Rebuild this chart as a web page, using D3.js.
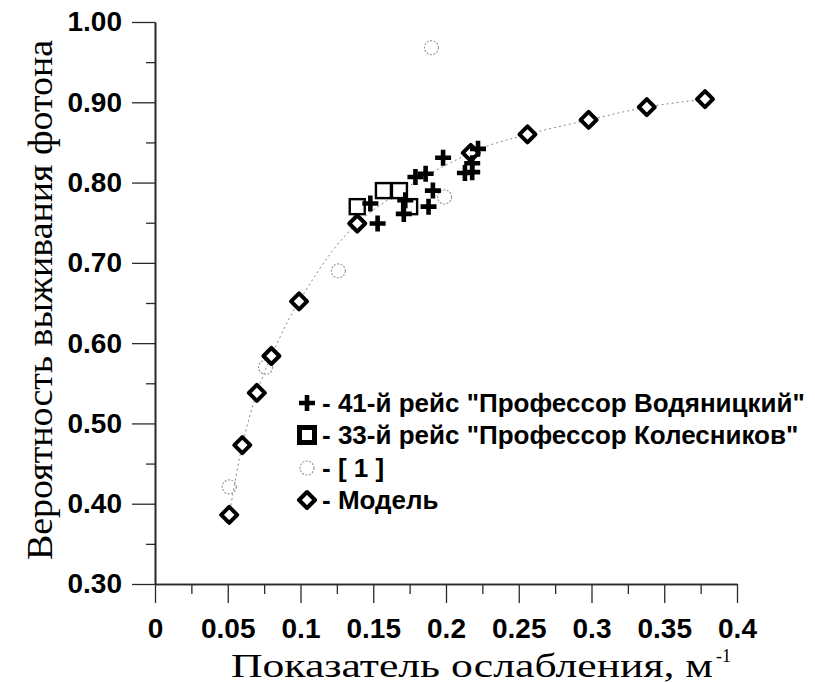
<!DOCTYPE html>
<html>
<head>
<meta charset="utf-8">
<script src="https://cdn.jsdelivr.net/npm/d3@7/dist/d3.min.js"></script>
<style>
  html, body { margin: 0; padding: 0; background: #fff; }
  svg { display: block; }
</style>
</head>
<body>
<script>
// ---- data ----
const xTickValues = [0, 0.05, 0.1, 0.15, 0.2, 0.25, 0.3, 0.35, 0.4];
const xTickLabels = ["0", "0.05", "0.1", "0.15", "0.2", "0.25", "0.3", "0.35", "0.4"];
const yTickValues = [0.3, 0.4, 0.5, 0.6, 0.7, 0.8, 0.9, 1.0];
const yTickLabels = ["0.30", "0.40", "0.50", "0.60", "0.70", "0.80", "0.90", "1.00"];

// 41-й рейс "Профессор Водяницкий" (crosses)
const cruise41X = [0.148, 0.153, 0.171, 0.172, 0.179, 0.186, 0.191, 0.188, 0.198, 0.213, 0.218, 0.218, 0.222];
const cruise41Y = [0.774, 0.749, 0.761, 0.778, 0.807, 0.811, 0.790, 0.770, 0.831, 0.812, 0.813, 0.824, 0.842];

// 33-й рейс "Профессор Колесников" (squares)
const cruise33X = [0.139, 0.157, 0.168, 0.175];
const cruise33Y = [0.770, 0.790, 0.790, 0.770];

// [1] (light rings)
const ref1X = [0.051, 0.076, 0.126, 0.199, 0.190];
const ref1Y = [0.421, 0.570, 0.690, 0.782, 0.968];

// Модель (diamonds + dotted curve)
const modelX = [0.051, 0.060, 0.070, 0.080, 0.099, 0.139, 0.217, 0.256, 0.298, 0.338, 0.378];
const modelY = [0.386, 0.473, 0.538, 0.584, 0.652, 0.749, 0.837, 0.860, 0.878, 0.894, 0.904];

const legendLabels = [
  '- 41-й рейс "Профессор Водяницкий"',
  '- 33-й рейс "Профессор Колесников"',
  '- [ 1 ]',
  '- Модель'
];
const xTitle = "Показатель ослабления,  м";
const xTitleSup = "-1";
const yTitle = "Вероятность выживания фотона";

// ---- drawing ----
const W = 815, H = 683;
const svg = d3.select("body").append("svg").attr("width", W).attr("height", H);

const x = d3.scaleLinear().domain([0, 0.4]).range([155, 737]);
const y = d3.scaleLinear().domain([0.3, 1.0]).range([584, 22]);

const axisColor = "#2a2a2a";
const sans = "'Liberation Sans', Arial, sans-serif";
const serif = "'Liberation Serif', 'Times New Roman', serif";

// minor ticks
const xMinor = d3.range(0.025, 0.4, 0.05);
const yMinor = d3.range(0.35, 1.0, 0.1);

const gxMinor = svg.append("g").attr("transform", `translate(0,${y(0.3)})`)
  .call(d3.axisBottom(x).tickValues(xMinor).tickSize(10).tickFormat("").tickSizeOuter(0));
const gyMinor = svg.append("g").attr("transform", `translate(${x(0)},0)`)
  .call(d3.axisLeft(y).tickValues(yMinor).tickSize(9).tickFormat("").tickSizeOuter(0));

const gx = svg.append("g").attr("transform", `translate(0,${y(0.3)})`)
  .call(d3.axisBottom(x).tickValues(xTickValues).tickSize(19).tickPadding(15).tickSizeOuter(0)
    .tickFormat((d, i) => xTickLabels[i]));
const gy = svg.append("g").attr("transform", `translate(${x(0)},0)`)
  .call(d3.axisLeft(y).tickValues(yTickValues).tickSize(23).tickPadding(10).tickSizeOuter(0)
    .tickFormat((d, i) => yTickLabels[i]));

[gx, gy, gxMinor, gyMinor].forEach(g => {
  g.selectAll("path.domain").attr("stroke", axisColor).attr("stroke-width", 1.6);
  g.selectAll(".tick line").attr("stroke", axisColor).attr("stroke-width", 1.3);
});
gx.selectAll(".tick text").attr("font-family", sans).attr("font-size", 28).attr("font-weight", "bold")
  .attr("fill", "#000").attr("dy", "0.71em");
gy.selectAll(".tick text").attr("font-family", sans).attr("font-size", 28).attr("font-weight", "bold")
  .attr("fill", "#000");

// axis titles
svg.append("text")
  .attr("x", 231).attr("y", 677)
  .attr("font-family", serif).attr("font-size", 34).attr("fill", "#000")
  .attr("textLength", 482).attr("lengthAdjust", "spacingAndGlyphs")
  .text(xTitle);
svg.append("text")
  .attr("x", 716).attr("y", 662)
  .attr("font-family", serif).attr("font-size", 18).attr("fill", "#000")
  .text(xTitleSup);

svg.append("text")
  .attr("transform", `translate(52,300) rotate(-90)`)
  .attr("text-anchor", "middle")
  .attr("font-family", serif).attr("font-size", 35).attr("fill", "#000")
  .attr("textLength", 520).attr("lengthAdjust", "spacingAndGlyphs")
  .text(yTitle);

// model curve
const modelPts = modelX.map((v, i) => [v, modelY[i]]);
svg.append("path")
  .datum(modelPts)
  .attr("fill", "none")
  .attr("stroke", "#888")
  .attr("stroke-width", 1)
  .attr("stroke-dasharray", "2,3")
  .attr("d", d3.line().x(d => x(d[0])).y(d => y(d[1])).curve(d3.curveCatmullRom));

// marker helpers
function ring(g, cx, cy) {
  g.append("circle").attr("cx", cx).attr("cy", cy).attr("r", 7)
    .attr("fill", "none").attr("stroke", "#9a9a9a").attr("stroke-width", 1.2)
    .attr("stroke-dasharray", "2,1.5");
}
function square(g, cx, cy, bold) {
  const s = 15;
  g.append("rect").attr("x", cx - s / 2).attr("y", cy - s / 2).attr("width", s).attr("height", s)
    .attr("fill", "#fff").attr("stroke", "#000").attr("stroke-width", bold ? 5 : 2.4);
}
function cross(g, cx, cy) {
  const a = 8;
  g.append("path").attr("d", `M${cx - a},${cy}H${cx + a}M${cx},${cy - a}V${cy + a}`)
    .attr("stroke", "#000").attr("stroke-width", 4.6).attr("fill", "none");
}
function diamond(g, cx, cy) {
  const a = 8;
  g.append("path").attr("d", `M${cx},${cy - a}L${cx + a},${cy}L${cx},${cy + a}L${cx - a},${cy}Z`)
    .attr("fill", "#fff").attr("stroke", "#000").attr("stroke-width", 4).attr("stroke-linejoin", "round");
}

const marks = svg.append("g");
ref1X.forEach((v, i) => ring(marks, x(v), y(ref1Y[i])));
cruise33X.forEach((v, i) => square(marks, x(v), y(cruise33Y[i]), false));
modelX.forEach((v, i) => diamond(marks, x(v), y(modelY[i])));
cruise41X.forEach((v, i) => cross(marks, x(v), y(cruise41Y[i])));

// legend
const lg = svg.append("g");
const legY = [403, 435, 468, 500];
const legMarkX = 307;
cross(lg, legMarkX, legY[0]);
square(lg, legMarkX, legY[1], true);
ring(lg, legMarkX, legY[2]);
diamond(lg, legMarkX, legY[3]);
legendLabels.forEach((t, i) => {
  lg.append("text").attr("x", 322).attr("y", legY[i]).attr("dy", "0.36em")
    .attr("font-family", sans).attr("font-size", 26).attr("font-weight", "bold")
    .attr("fill", "#000").text(t);
});
</script>
</body>
</html>
